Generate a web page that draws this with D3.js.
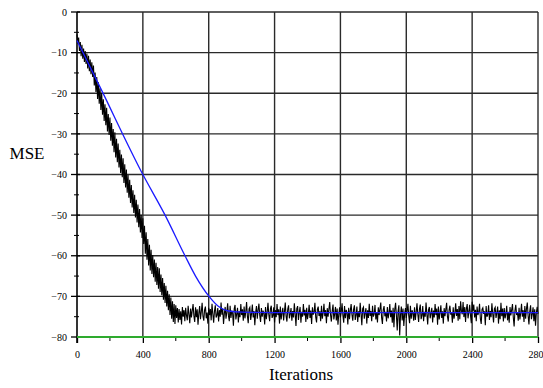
<!DOCTYPE html>
<html><head><meta charset="utf-8">
<script src="https://cdn.jsdelivr.net/npm/d3@7"></script>
<style>body{margin:0;background:#fff}svg{display:block}</style>
</head><body>
<svg id="c" width="543" height="388"></svg>
<script>
// ---- data ----
const xTicks = [0, 400, 800, 1200, 1600, 2000, 2400, 2800];
const yTicks = [0, -10, -20, -30, -40, -50, -60, -70, -80];
const sampleStep = 5; // iterations between samples of the noisy curve
const mseNoisy = [
 -5.5,-7.8,-6.3,-9.6,-7.4,-10.9,-8.1,-11.5,-9.0,-12.3,-9.6,-12.8,-10.2,-13.9,-10.8,-14.6,-11.7,-15.3,-12.4,-16.0,
 -13.2,-18.1,-14.9,-19.7,-16.0,-21.4,-17.3,-22.6,-18.8,-24.1,-19.9,-25.3,-21.5,-26.8,-22.7,-27.9,-23.6,-29.4,-25.1,-30.3,
 -26.0,-31.7,-27.3,-32.9,-28.8,-34.5,-29.6,-35.8,-31.2,-37.0,-32.4,-38.3,-33.9,-39.6,-35.1,-40.7,-36.0,-42.1,-37.5,-43.2,
 -38.8,-44.5,-40.1,-45.7,-41.3,-47.0,-42.6,-48.1,-43.9,-49.5,-45.0,-50.6,-46.2,-51.8,-47.4,-53.0,-48.5,-54.3,-49.9,-55.6,
 -50.8,-57.1,-52.6,-59.5,-54.2,-61.0,-55.9,-62.4,-57.3,-63.6,-58.5,-64.5,-59.8,-65.3,-60.9,-66.4,-61.7,-67.2,-62.8,-68.1,
 -63.1,-68.9,-64.6,-69.7,-65.5,-70.8,-66.7,-71.6,-67.4,-72.5,-68.6,-73.4,-69.5,-74.6,-70.3,-75.5,-71.2,-76.3,-71.9,-76.8,
 -72.2,-75.3,-72.9,-76.4,-73.1,-75.8,-73.7,-76.9,-72.6,-75.0,-73.4,-76.1,-72.8,-74.7,-75.9,-72.3,-74.4,-76.6,-73.0,-75.2,
 -73.5,-71.9,-74.8,-76.3,-72.7,-75.1,-73.2,-77.0,-74.1,-72.4,-75.6,-73.8,-71.6,-74.9,-76.0,-73.3,-72.5,-75.4,-74.0,-76.7,
 -72.8,-74.6,-73.1,-75.9,-71.8,-74.3,-76.5,-73.6,-72.2,-75.2,-74.7,-72.9,-76.2,-73.4,-75.0,-71.5,-74.5,-73.0,-76.8,-74.2,
 -72.6,-75.5,-73.9,-71.7,-74.8,-76.1,-72.3,-75.3,-73.5,-74.1,-77.2,-73.0,-72.1,-75.7,-74.4,-72.8,-76.4,-73.7,-75.1,-71.9,
 -74.6,-73.2,-76.0,-72.5,-75.4,-73.8,-71.4,-74.9,-76.6,-73.1,-72.7,-75.8,-74.3,-72.0,-75.2,-73.6,-77.1,-74.0,-72.4,-75.5,
 -73.3,-71.8,-74.7,-76.3,-72.9,-75.0,-73.5,-74.2,-76.9,-72.6,-75.6,-73.9,-71.6,-74.5,-76.1,-73.0,-72.3,-75.3,-74.8,-72.7,
 -76.4,-73.4,-75.1,-71.9,-74.6,-73.2,-76.7,-72.5,-75.7,-74.1,-72.8,-75.9,-73.7,-71.5,-74.9,-76.2,-73.1,-72.2,-75.4,-74.4,
 -72.9,-76.0,-73.6,-75.2,-71.7,-74.3,-77.3,-73.0,-72.4,-75.8,-74.0,-72.6,-76.5,-73.8,-75.0,-71.9,-74.7,-73.3,-76.3,-72.8,
 -75.6,-74.2,-72.1,-75.3,-73.5,-76.8,-72.7,-74.5,-73.9,-71.6,-75.1,-76.4,-73.2,-72.5,-74.8,-73.7,-76.1,-72.3,-75.5,-74.1,
 -71.8,-74.9,-73.4,-76.6,-72.9,-75.0,-73.1,-71.4,-74.6,-76.2,-73.6,-72.0,-75.7,-74.3,-72.6,-75.9,-73.0,-77.0,-74.4,-72.7,
 -75.2,-73.8,-71.7,-74.7,-76.5,-72.4,-75.4,-73.3,-74.0,-76.9,-72.8,-75.6,-73.5,-71.9,-74.5,-76.0,-73.2,-72.2,-75.8,-74.6,
 -72.5,-76.3,-73.7,-75.1,-71.6,-74.2,-77.1,-73.0,-72.6,-75.5,-74.1,-72.9,-76.7,-73.4,-75.3,-71.8,-74.8,-73.6,-76.1,-72.3,
 -75.0,-74.4,-72.1,-75.7,-73.9,-76.4,-72.7,-74.6,-73.1,-71.5,-75.2,-76.8,-73.3,-72.4,-74.9,-73.8,-76.2,-72.6,-75.4,-74.0,
 -71.9,-75.1,-73.5,-76.5,-72.8,-77.6,-73.2,-71.6,-74.7,-78.4,-73.7,-72.2,-79.6,-74.5,-72.5,-75.9,-73.0,-77.3,-74.3,-72.9,
 -75.3,-73.6,-71.8,-74.8,-76.6,-72.3,-75.5,-73.4,-74.1,-76.0,-72.7,-75.8,-73.9,-71.7,-74.4,-76.3,-73.1,-72.0,-75.6,-74.7,
 -72.4,-76.1,-73.8,-75.0,-71.5,-74.3,-76.9,-73.3,-72.6,-75.4,-74.2,-72.8,-76.4,-73.5,-75.2,-71.9,-74.6,-73.0,-77.0,-72.5,
 -75.7,-74.0,-72.2,-75.3,-73.7,-76.7,-72.9,-74.9,-73.2,-71.6,-75.0,-76.2,-73.4,-72.3,-74.5,-73.9,-76.5,-72.7,-75.5,-74.1,
 -71.7,-74.8,-73.1,-76.0,-72.4,-75.6,-71.2,-73.6,-74.4,-71.4,-75.1,-72.6,-76.3,-73.0,-71.9,-75.4,-73.8,-72.1,-74.7,-76.6,
 -71.3,-73.5,-72.0,-75.2,-73.3,-76.1,-72.5,-74.6,-73.9,-71.8,-75.5,-76.8,-73.2,-72.8,-74.3,-73.7,-77.1,-72.4,-75.0,-74.5,
 -72.2,-75.8,-73.6,-75.1,-71.7,-74.2,-76.4,-73.1,-72.7,-75.3,-74.0,-72.5,-76.7,-73.4,-75.6,-71.6,-74.9,-73.0,-76.2,-72.9,
 -75.4,-74.3,-72.3,-75.9,-73.8,-76.5,-72.6,-74.7,-73.3,-71.9,-75.2,-77.4,-73.5,-72.1,-74.6,-73.9,-76.0,-72.8,-75.7,-74.1,
 -71.8,-75.0,-73.4,-76.3,-72.4,-75.5,-73.0,-71.5,-74.8,-76.9,-73.7,-72.2,-75.6,-74.4,-72.7,-76.1,-73.2,-77.2,-74.0,-72.6,
 -74.3
];
const theoryIter = [0, 140, 400, 535, 656, 720, 802, 860, 920, 1000, 1200, 2800];
const theoryMse  = [-7, -18.5, -40, -50, -60, -65, -70, -72.5, -73.6, -73.9, -74, -74];
const floorIter = [0, 2800];
const floorMse = [-80, -80];

// ---- layout ----
const FONT = '"Liberation Serif","Times New Roman",serif';
const svg = d3.select("#c");
const L = 77, R = 538, T = 12, B = 337;
const x = d3.scaleLinear().domain([0, 2800]).range([L, R]);
const y = d3.scaleLinear().domain([-80, 0]).range([B, T]);

// grid
const g = svg.append("g");
g.selectAll("line.v").data(xTicks.slice(1)).enter().append("line")
  .attr("x1", d => x(d)).attr("x2", d => x(d)).attr("y1", T).attr("y2", B)
  .attr("stroke", "#2a2a2a").attr("stroke-width", 1.4);
g.selectAll("line.h").data(yTicks.slice(0, -1)).enter().append("line")
  .attr("x1", L).attr("x2", R).attr("y1", d => y(d)).attr("y2", d => y(d))
  .attr("stroke", "#2a2a2a").attr("stroke-width", 1.4);

// y axis
const yAxis = d3.axisLeft(y).tickValues(yTicks).tickSize(0).tickPadding(10)
  .tickFormat(d => d === 0 ? "0" : "\u2212" + Math.abs(d));
const ya = svg.append("g").attr("transform", `translate(${L},0)`).call(yAxis)
  .attr("font-family", FONT).attr("font-size", 10);
ya.select(".domain").remove();
ya.selectAll("text").style("font-family", FONT).style("font-size", "10px");
const yMinor = d3.range(-75, 0, 10);
svg.append("g").selectAll("line").data(yTicks).enter().append("line")
  .attr("x1", L - 6).attr("x2", L + 3).attr("y1", d => y(d)).attr("y2", d => y(d))
  .attr("stroke", "#000").attr("stroke-width", 1.3);
svg.append("g").selectAll("line").data(yMinor).enter().append("line")
  .attr("x1", L - 3).attr("x2", L + 2).attr("y1", d => y(d)).attr("y2", d => y(d))
  .attr("stroke", "#000").attr("stroke-width", 1);

// x axis
const xAxis = d3.axisBottom(x).tickValues(xTicks).tickSize(6).tickPadding(8).tickFormat(d3.format("d"));
const xa = svg.append("g").attr("transform", `translate(0,${B})`).call(xAxis)
  .attr("font-family", FONT).attr("font-size", 10);
xa.select(".domain").remove();
xa.selectAll("line").attr("stroke-width", 1.3);
xa.selectAll("text").style("font-family", FONT).style("font-size", "10px");
const xMinor = d3.range(200, 2800, 400);
svg.append("g").selectAll("line").data(xMinor).enter().append("line")
  .attr("x1", d => x(d)).attr("x2", d => x(d)).attr("y1", B).attr("y2", B + 4)
  .attr("stroke", "#000").attr("stroke-width", 1);

// left axis line
svg.append("line").attr("x1", L).attr("x2", L).attr("y1", T).attr("y2", B + 6)
  .attr("stroke", "#000").attr("stroke-width", 1.6);

// curves
const line = d3.line().x(d => x(d[0])).y(d => y(d[1]));
svg.append("path").datum(mseNoisy.map((v, i) => [i * sampleStep, v]))
  .attr("d", line).attr("fill", "none").attr("stroke", "#000").attr("stroke-width", 1.1);
const curve = d3.line().x(d => x(d[0])).y(d => y(d[1])).curve(d3.curveMonotoneX);
svg.append("path").datum(theoryIter.map((v, i) => [v, theoryMse[i]]))
  .attr("d", curve).attr("fill", "none").attr("stroke", "#1a1aff").attr("stroke-width", 1.3);
svg.append("path").datum(floorIter.map((v, i) => [v, floorMse[i]]))
  .attr("d", line).attr("fill", "none").attr("stroke", "#2eaa2e").attr("stroke-width", 2);

// labels
svg.append("text").attr("x", 27).attr("y", 159).attr("text-anchor", "middle")
  .style("font-family", FONT).style("font-size", "17px").text("MSE");
svg.append("text").attr("x", 301).attr("y", 380).attr("text-anchor", "middle")
  .style("font-family", FONT).style("font-size", "17px").text("Iterations");
</script>
</body></html>
